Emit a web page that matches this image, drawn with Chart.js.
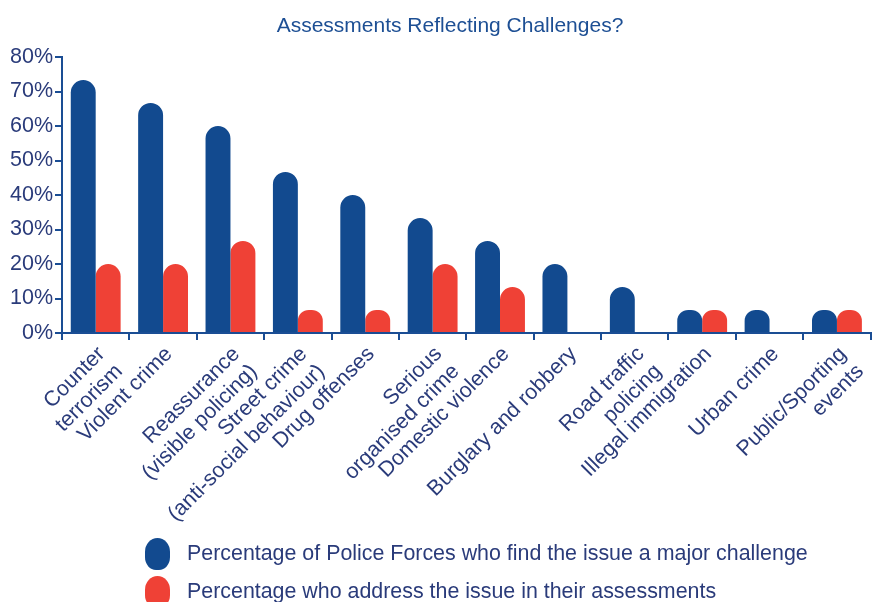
<!DOCTYPE html>
<html>
<head>
<meta charset="utf-8">
<script src="https://cdn.jsdelivr.net/npm/chart.js@4"></script>
<style>
  html, body { margin: 0; padding: 0; background: #fff; overflow: hidden; }
  #wrap { position: relative; width: 874px; height: 602px; font-family: "Liberation Sans", Arial, sans-serif; }
  #chartCanvas { position: absolute; left: 0; top: 0; }
  #title { position: absolute; left: 0; top: 14px; width: 900px; text-align: center; font-size: 21px; line-height: 21px; color: #1d4f94; }
  .legendRow { position: absolute; left: 145px; height: 34px; }
  .legendMark { position: absolute; left: 0; top: 0; width: 25px; height: 32px; border-radius: 12.5px 12.5px 11px 11px / 14px 14px 13px 13px; }
  .legendText { position: absolute; left: 42px; top: 5px; white-space: nowrap; font-size: 21.4px; line-height: 21px; color: #2a3b7a; }
</style>
</head>
<body>
<div id="wrap">
  <canvas id="chartCanvas" width="874" height="602"></canvas>
  <div id="title">Assessments Reflecting Challenges?</div>
  <div id="legend"></div>
</div>
<script>
// categories
var categories = [
    ["Counter", "terrorism"],
    "Violent crime",
    ["Reassurance", "(visible policing)"],
    ["Street crime", "(anti-social behaviour)"],
    "Drug offenses",
    ["Serious", "organised crime"],
    "Domestic violence",
    "Burglary and robbery",
    ["Road traffic", "policing"],
    "Illegal immigration",
    "Urban crime",
    ["Public/Sporting", "events"]
];
// series values (percent)
var majorChallenge = [73.3, 66.7, 60, 46.7, 40, 33.3, 26.7, 20, 13.3, 6.7, 6.7, 6.7];
var inAssessments = [20, 20, 26.7, 6.7, 6.7, 20, 13.3, 0, 0, 6.7, 0, 6.7];
var seriesNames = [
    "Percentage of Police Forces who find the issue a major challenge",
    "Percentage who address the issue in their assessments"
];
// y axis ticks
var yTickMax = 80;
var yTickStep = 10;

var blue = "#124a8f";
var red = "#ef4136";
var axisColor = "#1a4d94";
var labelColor = "#2a3b7a";

//legend built as html below the plot
function buildLegend(){
    let container = document.getElementById("legend");
    let colors = [blue, red];
    let tops = [538, 576];
    for(let i = 0; i < seriesNames.length; i++){
        let row = document.createElement("div");
        row.className = "legendRow";
        row.style.top = tops[i] + "px";
        let mark = document.createElement("div");
        mark.className = "legendMark";
        mark.style.background = colors[i];
        let text = document.createElement("div");
        text.className = "legendText";
        text.textContent = seriesNames[i];
        row.appendChild(mark);
        row.appendChild(text);
        container.appendChild(row);
    }
}

var currentChart = new Chart(document.getElementById("chartCanvas"), {
    type: "bar",
    data: {
        labels: categories,
        datasets: [{
            label: seriesNames[0],
            data: majorChallenge,
            backgroundColor: blue,
            borderRadius: 13,
            borderSkipped: "bottom"
        }, {
            label: seriesNames[1],
            data: inAssessments,
            backgroundColor: red,
            borderRadius: 13,
            borderSkipped: "bottom"
        }]
    },
    options: {
        responsive: false,
        animation: false,
        layout: { padding: { top: 57, right: 2, left: 0, bottom: 0 } },
        datasets: { bar: { categoryPercentage: 0.74, barPercentage: 1.0 } },
        plugins: {
            legend: { display: false },
            title: { display: false },
            tooltip: { enabled: false }
        },
        scales: {
            x: {
                afterFit: function(scale){ scale.height = 269; },
                border: { display: true, color: axisColor, width: 2 },
                grid: { display: true, drawOnChartArea: false, tickLength: 7, color: axisColor, lineWidth: 2, offset: true },
                ticks: {
                    autoSkip: false,
                    minRotation: 45,
                    maxRotation: 45,
                    padding: 2,
                    labelOffset: 6,
                    color: labelColor,
                    font: { family: "Liberation Sans", size: 21.5, lineHeight: 1.15 }
                }
            },
            y: {
                min: 0,
                max: yTickMax,
                afterFit: function(scale){ scale.width = 62; },
                border: { display: true, color: axisColor, width: 2 },
                grid: { display: true, drawOnChartArea: false, tickLength: 7, color: axisColor, lineWidth: 2 },
                ticks: {
                    stepSize: yTickStep,
                    padding: 2,
                    color: labelColor,
                    font: { family: "Liberation Sans", size: 21.5 },
                    callback: function(v){ return v + "%"; }
                }
            }
        }
    }
});

buildLegend();
</script>
</body>
</html>
